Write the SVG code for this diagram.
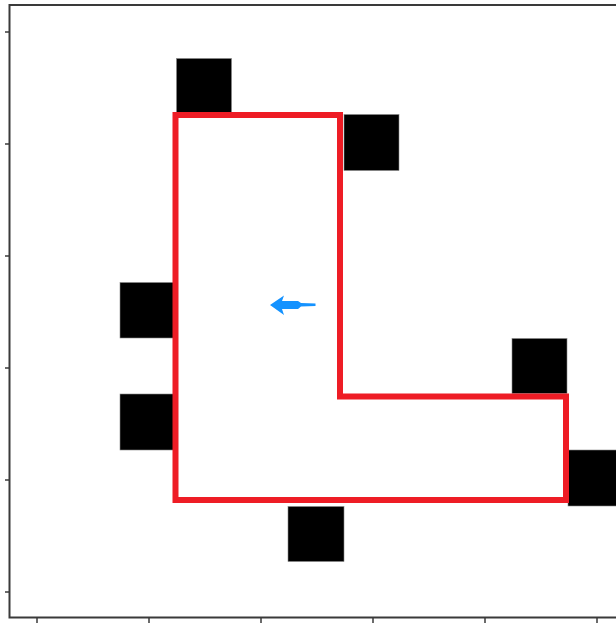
<svg xmlns="http://www.w3.org/2000/svg" width="616" height="623" viewBox="0 0 616 623">
<style>
.ax{stroke:#3a3a3a;stroke-width:2;fill:none}
.tk{stroke:#3a3a3a;stroke-width:1.5}
.obs{fill:#000;stroke:#888;stroke-width:0.6}
.room{fill:none;stroke:#ee1c25;stroke-width:6;stroke-linejoin:miter}
.arrow{fill:#1492ff}
</style>
<rect width="616" height="623" fill="#fff"/>
<g id="axes">
<path class="ax" d="M616,5 H9.5 V617.5 H616"/>
<g class="tk">
<line x1="5" y1="32" x2="9" y2="32"/>
<line x1="5" y1="144" x2="9" y2="144"/>
<line x1="5" y1="256" x2="9" y2="256"/>
<line x1="5" y1="368" x2="9" y2="368"/>
<line x1="5" y1="480" x2="9" y2="480"/>
<line x1="5" y1="592" x2="9" y2="592"/>
<line x1="37" y1="618" x2="37" y2="623"/>
<line x1="149" y1="618" x2="149" y2="623"/>
<line x1="261" y1="618" x2="261" y2="623"/>
<line x1="373" y1="618" x2="373" y2="623"/>
<line x1="485" y1="618" x2="485" y2="623"/>
<line x1="597" y1="618" x2="597" y2="623"/>
</g>
</g>
<g id="obstacle1"><rect class="obs" x="176.5" y="58.5" width="55" height="55"/></g>
<g id="obstacle2"><rect class="obs" x="344" y="114.5" width="55" height="56"/></g>
<g id="obstacle3"><rect class="obs" x="120" y="282.5" width="54" height="55.5"/></g>
<g id="obstacle4"><rect class="obs" x="120" y="394" width="54" height="56"/></g>
<g id="obstacle5"><rect class="obs" x="288" y="506.5" width="56" height="55"/></g>
<g id="obstacle6"><rect class="obs" x="512" y="338.5" width="55" height="55"/></g>
<g id="obstacle7"><rect class="obs" x="568" y="450" width="56" height="56"/></g>
<g id="room"><polygon class="room" points="175.5,115 340,115 340,396.5 566,396.5 566,500 175.5,500"/></g>
<g id="robot"><path class="arrow" d="M270,305 L284,295.5 L282,301 L298,301 L301,303 L315.5,303.5 L315.5,306 L301,306.5 L298,309 L282,309 L284,315 Z"/></g>
</svg>
